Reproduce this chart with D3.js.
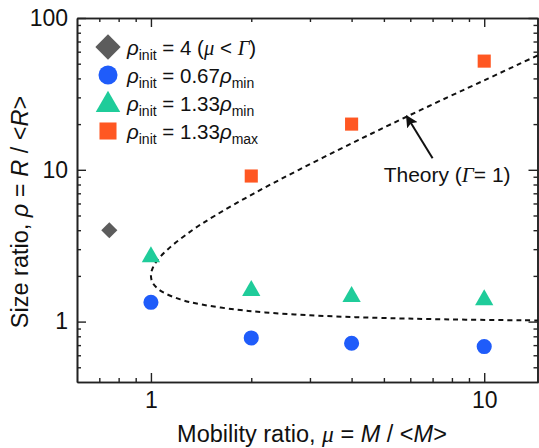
<!DOCTYPE html>
<html>
<head>
<meta charset="utf-8">
<script src="https://cdn.jsdelivr.net/npm/d3@7"></script>
<style>
  body { margin: 0; background: #fff; }
  svg { display: block; font-family: "Liberation Sans", Arial, sans-serif; }
  .axis path, .axis line { stroke: #222; }
  .axis path { stroke-width: 1.6; }
  .axis line { stroke-width: 1.4; }
  .axis text { font-size: 23px; fill: #111; font-family: "Liberation Sans", Arial, sans-serif; }
</style>
</head>
<body>
<div id="chart"></div>
<script>
// simulation results
const muCircle = [1, 2, 4, 10]
const rhoCircle = [1.34, 0.78, 0.72, 0.685]
const muTriangle = [1, 2, 4, 10]
const rhoTriangle = [2.67, 1.6, 1.46, 1.39]
const muSquare = [2, 4, 10]
const rhoSquare = [9.1, 20, 52]
const muDiamond = [0.75]
const rhoDiamond = [4]

// theory curve (Gamma = 1)
const theoryMu = [15.3, 12.8, 10.3, 7.76, 5.26, 4.02, 2.78, 2.04, 1.56, 1.33, 1.125, 1.04, 1.008, 1.0, 1.0125, 1.067, 1.225, 1.41, 1.8, 2.2, 3.0, 4.1, 5.5, 6.8, 8.8, 13, 17]
const theoryRho = [60, 50, 40, 30, 20, 15, 10, 7, 5, 4, 3, 2.5, 2.2, 2, 1.8, 1.6, 1.4, 1.3, 1.2, 1.15, 1.1, 1.07, 1.05, 1.04, 1.03, 1.02, 1.015]

const xTicks = [1, 10]
const xMinor = [0.7, 0.8, 0.9, 2, 3, 4, 5, 6, 7, 8, 9]
const yTicks = [1, 10, 100]
const yMinor = [0.5, 0.6, 0.7, 0.8, 0.9, 2, 3, 4, 5, 6, 7, 8, 9, 20, 30, 40, 50, 60, 70, 80, 90]

const colors = {diamond: '#5c5c5c', circle: '#1f5cfa', triangle: '#1fcc9a', square: '#ff5722'}

const width = 539, height = 448
const margin = {top: 18, right: 1, bottom: 66, left: 77}

const x = d3.scaleLog().domain([0.6, 14.5]).range([margin.left, width - margin.right])
const y = d3.scaleLog().domain([0.4, 100]).range([height - margin.bottom, margin.top])

const svg = d3.select('#chart').append('svg')
  .attr('width', width)
  .attr('height', height)

svg.append('defs').append('clipPath').attr('id', 'clip')
  .append('rect')
  .attr('x', margin.left).attr('y', margin.top)
  .attr('width', width - margin.right - margin.left)
  .attr('height', height - margin.bottom - margin.top)

const marker = svg.select('defs').append('marker')
  .attr('id', 'arrow')
  .attr('viewBox', '0 0 10 10')
  .attr('refX', 9).attr('refY', 5)
  .attr('markerWidth', 6).attr('markerHeight', 6)
  .attr('markerUnits', 'strokeWidth')
  .attr('orient', 'auto')
marker.append('path').attr('d', 'M0,0L10,5L0,10L2,5z').attr('fill', '#111')

// axes, ticks pointing inward
const bottom = height - margin.bottom
const right = width - margin.right
svg.append('g').attr('class', 'axis')
  .attr('transform', `translate(0,${bottom})`)
  .call(d3.axisBottom(x).tickValues(xTicks).tickSize(-9).tickSizeOuter(0).tickPadding(10).tickFormat(d3.format('d')))
svg.append('g').attr('class', 'axis')
  .attr('transform', `translate(0,${bottom})`)
  .call(d3.axisBottom(x).tickValues(xMinor).tickSize(-4).tickSizeOuter(0).tickFormat(''))
svg.append('g').attr('class', 'axis')
  .attr('transform', `translate(0,${margin.top})`)
  .call(d3.axisTop(x).tickValues(xTicks).tickSize(-9).tickSizeOuter(0).tickFormat(''))
svg.append('g').attr('class', 'axis')
  .attr('transform', `translate(0,${margin.top})`)
  .call(d3.axisTop(x).tickValues(xMinor).tickSize(-4).tickSizeOuter(0).tickFormat(''))

svg.append('g').attr('class', 'axis')
  .attr('transform', `translate(${margin.left},0)`)
  .call(d3.axisLeft(y).tickValues(yTicks).tickSize(-9).tickSizeOuter(0).tickPadding(9).tickFormat(d3.format('d')))
svg.append('g').attr('class', 'axis')
  .attr('transform', `translate(${margin.left},0)`)
  .call(d3.axisLeft(y).tickValues(yMinor).tickSize(-4).tickSizeOuter(0).tickFormat(''))
svg.append('g').attr('class', 'axis')
  .attr('transform', `translate(${right - 0.5},0)`)
  .call(d3.axisRight(y).tickValues(yTicks).tickSize(-9).tickSizeOuter(0).tickFormat(''))
svg.append('g').attr('class', 'axis')
  .attr('transform', `translate(${right - 0.5},0)`)
  .call(d3.axisRight(y).tickValues(yMinor).tickSize(-4).tickSizeOuter(0).tickFormat(''))

// axis titles
const greek = '"Liberation Serif", "DejaVu Serif", serif'
const xTitle = svg.append('text')
  .attr('x', 312).attr('y', 442)
  .attr('text-anchor', 'middle')
  .style('font-size', '23.5px').attr('fill', '#111')
xTitle.append('tspan').text('Mobility ratio, ')
xTitle.append('tspan').style('font-style', 'italic').style('font-family', greek).text('μ')
xTitle.append('tspan').text(' = ')
xTitle.append('tspan').style('font-style', 'italic').text('M')
xTitle.append('tspan').text(' / <')
xTitle.append('tspan').style('font-style', 'italic').text('M')
xTitle.append('tspan').text('>')

const yTitle = svg.append('text')
  .attr('transform', 'translate(28,212) rotate(-90)')
  .attr('text-anchor', 'middle')
  .style('font-size', '23.5px').attr('fill', '#111')
yTitle.append('tspan').text('Size ratio, ')
yTitle.append('tspan').style('font-style', 'italic').text('ρ')
yTitle.append('tspan').text(' = ')
yTitle.append('tspan').style('font-style', 'italic').text('R')
yTitle.append('tspan').text(' / <')
yTitle.append('tspan').style('font-style', 'italic').text('R')
yTitle.append('tspan').text('>')

// theory curve
const theory = theoryMu.map((m, i) => [m, theoryRho[i]])
svg.append('path')
  .datum(theory)
  .attr('clip-path', 'url(#clip)')
  .attr('fill', 'none')
  .attr('stroke', '#111')
  .attr('stroke-width', 2)
  .attr('stroke-dasharray', '5,4')
  .attr('d', d3.line().x(d => x(d[0])).y(d => y(d[1])).curve(d3.curveCatmullRom.alpha(0.5)))

// annotation
svg.append('line')
  .attr('x1', x(7.0)).attr('y1', y(11.9))
  .attr('x2', x(5.85)).attr('y2', y(22.6))
  .attr('stroke', '#111').attr('stroke-width', 2)
  .attr('marker-end', 'url(#arrow)')
const note = svg.append('text')
  .attr('x', x(7.74)).attr('y', y(8.3))
  .attr('text-anchor', 'middle')
  .style('font-size', '21px').attr('fill', '#111')
note.append('tspan').text('Theory (')
note.append('tspan').style('font-style', 'italic').style('font-family', greek).text('Γ')
note.append('tspan').text('= 1)')

// data points
const sym = (type, size) => d3.symbol().type(type).size(size)()
const series = [
  {key: 'diamond', mu: muDiamond, rho: rhoDiamond, type: d3.symbolSquare, size: 130, rot: 45},
  {key: 'circle', mu: muCircle, rho: rhoCircle, type: d3.symbolCircle, size: 180, rot: 0},
  {key: 'triangle', mu: muTriangle, rho: rhoTriangle, type: d3.symbolTriangle, size: 145, rot: 0},
  {key: 'square', mu: muSquare, rho: rhoSquare, type: d3.symbolSquare, size: 172, rot: 0}
]
series.forEach(s => {
  svg.selectAll('.pt-' + s.key)
    .data(s.mu.map((m, i) => [m, s.rho[i]]))
    .enter().append('path')
    .attr('class', 'pt-' + s.key)
    .attr('d', sym(s.type, s.size))
    .attr('transform', d => `translate(${x(d[0])},${y(d[1])}) rotate(${s.rot})`)
    .attr('fill', colors[s.key])
})

// legend
const legendRows = [
  {key: 'diamond', type: d3.symbolSquare, size: 320, rot: 45, value: '4', sub: null},
  {key: 'circle', type: d3.symbolCircle, size: 285, rot: 0, value: '0.67', sub: 'min'},
  {key: 'triangle', type: d3.symbolTriangle, size: 260, rot: 0, value: '1.33', sub: 'min'},
  {key: 'square', type: d3.symbolSquare, size: 290, rot: 0, value: '1.33', sub: 'max'}
]
const legend = svg.append('g')
legendRows.forEach((r, i) => {
  const base = 55 + i * 28
  legend.append('path')
    .attr('d', sym(r.type, r.size))
    .attr('transform', `translate(108,${base - 8 + (r.key === 'triangle' ? 2 : 0)}) rotate(${r.rot})`)
    .attr('fill', colors[r.key])
  const t = legend.append('text')
    .attr('x', 127).attr('y', base)
    .style('font-size', '20.5px').attr('fill', '#111')
  t.append('tspan').style('font-style', 'italic').text('ρ')
  t.append('tspan').attr('dy', 5).style('font-size', '14px').text('init')
  t.append('tspan').attr('dy', -5).text(' = ' + r.value)
  if (r.sub) {
    t.append('tspan').style('font-style', 'italic').text('ρ')
    t.append('tspan').attr('dy', 5).style('font-size', '14px').text(r.sub)
  } else {
    t.append('tspan').text(' (')
    t.append('tspan').style('font-style', 'italic').style('font-family', greek).text('μ')
    t.append('tspan').text(' < ')
    t.append('tspan').style('font-style', 'italic').style('font-family', greek).text('Γ')
    t.append('tspan').text(')')
  }
})
</script>
</body>
</html>
